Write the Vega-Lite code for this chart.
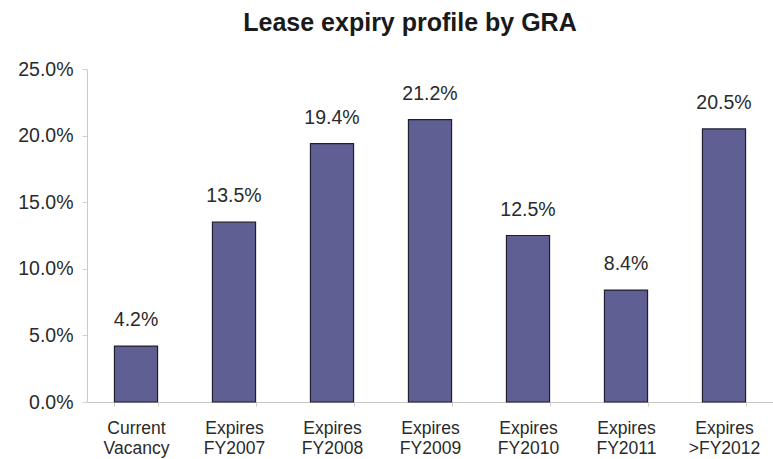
{
  "$schema": "https://vega.github.io/schema/vega-lite/v6.json",
  "autosize": "none",
  "padding": {"left": 87, "top": 69, "right": 0, "bottom": 57},
  "width": 686,
  "height": 333,
  "background": "white",
  "title": {
    "text": "Lease expiry profile by GRA",
    "font": "Liberation Sans",
    "fontSize": 25,
    "fontWeight": "bold",
    "color": "#1a1a1a",
    "anchor": "middle",
    "dx": -20,
    "offset": 23
  },
  "data": {
    "values": [
      {"category": "Current Vacancy", "value": 0.042},
      {"category": "Expires FY2007", "value": 0.135},
      {"category": "Expires FY2008", "value": 0.194},
      {"category": "Expires FY2009", "value": 0.212},
      {"category": "Expires FY2010", "value": 0.125},
      {"category": "Expires FY2011", "value": 0.084},
      {"category": "Expires >FY2012", "value": 0.205}
    ]
  },
  "config": {
    "view": {"stroke": null},
    "font": "Liberation Sans"
  },
  "encoding": {
    "x": {
      "field": "category",
      "type": "nominal",
      "sort": null,
      "scale": {"paddingInner": 0.56, "paddingOuter": 0.28},
      "axis": {
        "title": null,
        "labelAngle": 0,
        "labelExpr": "split(datum.label, ' ')",
        "labelFont": "Liberation Sans",
        "labelFontSize": 17.5,
        "labelColor": "#2a2a2a",
        "labelLineHeight": 20,
        "labelPadding": 13,
        "labelBaseline": "top",
        "domainColor": "#c8c8c8",
        "tickColor": "#d0d0d0",
        "tickBand": "extent",
        "tickSize": 4
      }
    },
    "y": {
      "field": "value",
      "type": "quantitative",
      "scale": {"domain": [0, 0.25], "nice": false},
      "axis": {
        "title": null,
        "format": ".1%",
        "values": [0, 0.05, 0.1, 0.15, 0.2, 0.25],
        "grid": false,
        "labelFont": "Liberation Sans",
        "labelFontSize": 19.5,
        "labelColor": "#2a2a2a",
        "labelPadding": 9,
        "domainColor": "#c8c8c8",
        "tickColor": "#d0d0d0",
        "tickSize": 5
      }
    }
  },
  "layer": [
    {
      "mark": {"type": "bar", "color": "#5f5f93", "stroke": "#1f1f2e", "strokeWidth": 1.2}
    },
    {
      "mark": {"type": "text", "font": "Liberation Sans", "fontSize": 19.5, "color": "#2a2a2a", "baseline": "alphabetic", "dy": -20},
      "encoding": {
        "text": {"field": "value", "type": "quantitative", "format": ".1%"}
      }
    }
  ]
}
